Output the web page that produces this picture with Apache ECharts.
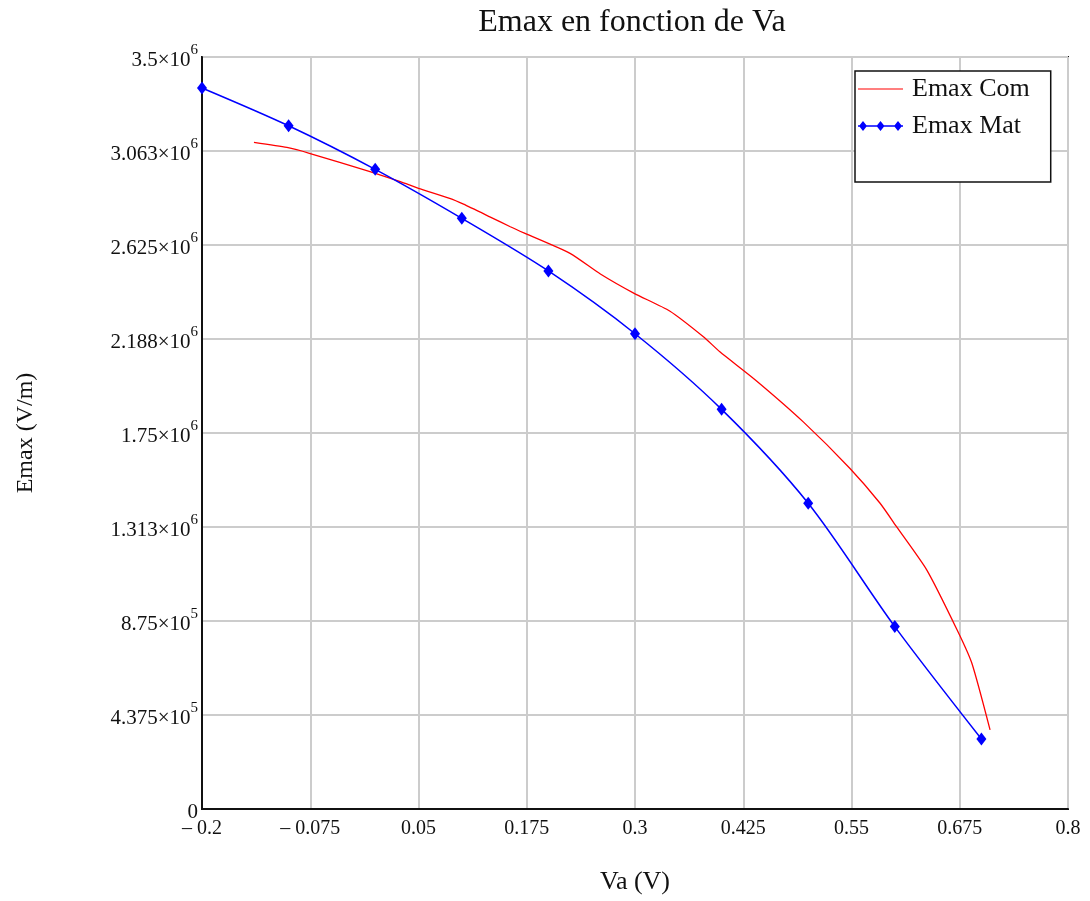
<!DOCTYPE html>
<html>
<head>
<meta charset="utf-8">
<title>Emax en fonction de Va</title>
<script src="https://cdn.jsdelivr.net/npm/echarts@6/dist/echarts.min.js"></script>
<style>
  html, body { margin: 0; padding: 0; background: #ffffff; overflow: hidden; }
  #chart { width: 1090px; height: 901px; }
</style>
</head>
<body>
<div id="chart"></div>
<script>
// Applied voltage Va (V) at which the "Mat" curve was evaluated
const matVa = [-0.2, -0.1, 0.0, 0.1, 0.2, 0.3, 0.4, 0.5, 0.6, 0.7];
// Maximum field Emax (V/m), "Mat" curve
const matEmax = [3356000, 3180000, 2977000, 2749000, 2504000, 2212000, 1860000, 1423000, 849000, 326000];

// "Com" curve: voltage samples and matching Emax (V/m)
const comVa = [-0.14, -0.102, -0.076, -0.006, 0.029, 0.05, 0.086, 0.102, 0.133, 0.156, 0.173, 0.225, 0.26, 0.299,
               0.34, 0.379, 0.398, 0.439, 0.494, 0.548, 0.583, 0.602, 0.637, 0.672, 0.689, 0.71];
const comEmax = [3103000, 3079000, 3052000, 2966000, 2920000, 2889000, 2842000, 2815000, 2755000, 2710000, 2679000,
                 2586000, 2490000, 2400000, 2318000, 2198000, 2128000, 1997000, 1803000, 1586000, 1423000, 1314000,
                 1112000, 833000, 678000, 368000];

// Axis ranges and tick steps
const xMin = -0.2, xMax = 0.8, xStep = 0.125;
const yMin = 0, yMax = 3500000, yStep = 437500;

const seriesNames = ['Emax Com', 'Emax Mat'];
const titleText = 'Emax en fonction de Va';
const xName = 'Va (V)';
const yName = 'Emax (V/m)';

const SERIF = '"Times New Roman", "Liberation Serif", "DejaVu Serif", serif';
const RED = '#ff0000';
const BLUE = '#0000ff';

const toPairs = (xs, ys) => xs.map((x, i) => [x, ys[i]]);

function xLabel(v) {
  const r = +v.toFixed(3);
  if (r < 0) return '\u2013 ' + Math.abs(r);
  return String(r);
}

function yLabel(v) {
  if (v === 0) return '{m|0}';
  const e = Math.floor(Math.log10(v) + 1e-9);
  const m = +(v / Math.pow(10, e)).toFixed(3);
  return '{m|' + m + '\u00d710}{s|' + e + '}';
}

const chart = echarts.init(document.getElementById('chart'), null, { renderer: 'canvas' });

chart.setOption({
  backgroundColor: '#ffffff',
  animation: false,
  title: {
    text: titleText,
    left: 632,
    top: 7,
    padding: 0,
    textAlign: 'center',
    textStyle: { fontFamily: SERIF, fontSize: 32, fontWeight: 'normal', color: '#111' }
  },
  legend: {
    orient: 'vertical',
    left: 855,
    top: 71,
    padding: [5, 21, 43, 3],
    itemGap: 11,
    itemWidth: 45,
    itemHeight: 10,
    symbolKeepAspect: true,
    backgroundColor: '#ffffff',
    borderColor: '#111',
    borderWidth: 1.5,
    borderRadius: 0,
    textStyle: { fontFamily: SERIF, fontSize: 26, color: '#111', padding: [0, 0, 0, 4] },
    data: [
      {
        name: seriesNames[0],
        icon: 'path://M0,0H45V1.2H0Z',
        itemStyle: { color: RED, borderWidth: 0 }
      },
      {
        name: seriesNames[1],
        icon: 'path://M0,4.25H45V5.75H0Z M5,0L9,5L5,10L1,5Z M22.5,0L26.5,5L22.5,10L18.5,5Z M40,0L44,5L40,10L36,5Z',
        itemStyle: { color: BLUE, borderWidth: 0 }
      }
    ]
  },
  grid: {
    left: 202,
    right: 22,
    top: 57,
    bottom: 92,
    outerBoundsMode: 'none',
    containLabel: false,
    show: true,
    borderColor: '#111',
    borderWidth: 2,
    backgroundColor: 'transparent'
  },
  xAxis: {
    type: 'value',
    min: xMin,
    max: xMax,
    interval: xStep,
    name: xName,
    nameLocation: 'middle',
    nameGap: 60,
    nameTextStyle: { fontFamily: SERIF, fontSize: 26, color: '#111' },
    axisLine: { show: true, onZero: false, lineStyle: { color: '#111', width: 2 } },
    axisTick: { show: false },
    splitLine: { show: true, lineStyle: { color: '#cccccc', width: 2 } },
    axisLabel: {
      margin: 10,
      formatter: xLabel,
      fontFamily: SERIF,
      fontSize: 20,
      color: '#111',
      showMinLabel: true,
      showMaxLabel: true
    }
  },
  yAxis: {
    type: 'value',
    min: yMin,
    max: yMax,
    interval: yStep,
    name: yName,
    nameLocation: 'middle',
    nameRotate: 90,
    nameGap: 164,
    nameTextStyle: { fontFamily: SERIF, fontSize: 24, color: '#111' },
    axisLine: { show: true, onZero: false, lineStyle: { color: '#111', width: 2 } },
    axisTick: { show: false },
    splitLine: { show: true, lineStyle: { color: '#cccccc', width: 2 } },
    axisLabel: {
      margin: 4,
      formatter: yLabel,
      showMinLabel: true,
      showMaxLabel: true,
      rich: {
        m: { fontFamily: SERIF, fontSize: 21, color: '#111', padding: [6, 0, 0, 0] },
        s: { fontFamily: SERIF, fontSize: 15, color: '#111', padding: [0, 0, 14, 0] }
      }
    }
  },
  series: [
    {
      name: seriesNames[0],
      type: 'line',
      data: toPairs(comVa, comEmax),
      symbol: 'none',
      showSymbol: false,
      smooth: 0.2,
      lineStyle: { color: RED, width: 1.3 },
      itemStyle: { color: RED },
      z: 2
    },
    {
      name: seriesNames[1],
      type: 'line',
      data: toPairs(matVa, matEmax),
      symbol: 'diamond',
      symbolSize: [10, 13],
      smooth: 0.3,
      lineStyle: { color: BLUE, width: 1.5 },
      itemStyle: { color: BLUE, borderWidth: 0 },
      z: 3
    }
  ]
});
</script>
</body>
</html>
